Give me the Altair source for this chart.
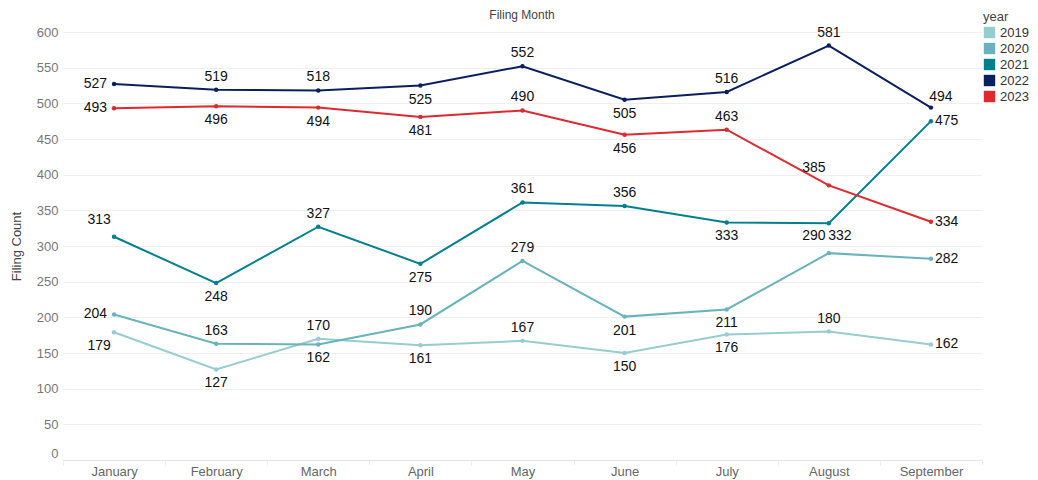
import altair as alt
import pandas as pd

months = ["January", "February", "March", "April", "May", "June", "July", "August", "September"]
years = ["2019", "2020", "2021", "2022", "2023"]
colors = ["#96CDD0", "#69B3BC", "#00808F", "#0A1F5F", "#DE2A2E"]

v2019 = [179, 127, 170, 161, 167, 150, 176, 180, 162]
v2020 = [204, 163, 162, 190, 279, 201, 211, 290, 282]
v2021 = [313, 248, 327, 275, 361, 356, 333, 332, 475]
v2022 = [527, 519, 518, 525, 552, 505, 516, 581, 494]
v2023 = [493, 496, 494, 481, 490, 456, 463, 385, 334]

# label placement codes per point (a=above, b=below, l=left, r=right, al/ar/bl/br diagonals)
p2019 = ["bl", "b", "a", "b", "a", "b", "b", "a", "r"]
p2020 = ["l", "a", "b", "a", "a", "b", "b", "al", "r"]
p2021 = ["al", "b", "a", "b", "a", "a", "b", "br", "r"]
p2022 = ["l", "a", "a", "b", "a", "b", "a", "a", "ar"]
p2023 = ["l", "b", "b", "b", "a", "b", "a", "al", "r"]

y_ticks = [0, 50, 100, 150, 200, 250, 300, 350, 400, 450, 500, 550, 600]

x_title = "Filing Month"
y_title = "Filing Count"

series = {"2019": (v2019, p2019), "2020": (v2020, p2020), "2021": (v2021, p2021),
          "2022": (v2022, p2022), "2023": (v2023, p2023)}

rows = []
for yr, (vals, pos) in series.items():
    for m, v, p in zip(months, vals, pos):
        rows.append({"month": m, "year": yr, "count": v, "pos": p})
df = pd.DataFrame(rows)

FONT = "Liberation Sans"

offsets = {
    "a": dict(dx=0, dy=-13, align="center"),
    "b": dict(dx=0, dy=14, align="center"),
    "l": dict(dx=-7, dy=0, align="right"),
    "r": dict(dx=4, dy=0, align="left"),
    "al": dict(dx=-15, dy=-17, align="center"),
    "ar": dict(dx=10, dy=-11, align="center"),
    "bl": dict(dx=-15, dy=14, align="center"),
    "br": dict(dx=11, dy=13, align="center"),
}

x_enc = alt.X(
    "month:N", sort=months,
    scale=alt.Scale(type="band", paddingInner=0, paddingOuter=0),
    axis=alt.Axis(title=None, labelAngle=0, grid=False, tickBand="extent",
                  ticks=True, tickSize=5, tickColor="#eeeeee",
                  domainColor="#e6e6e6", labelColor="#666666", labelFont=FONT,
                  labelFontSize=13, labelPadding=0),
)
y_enc = alt.Y(
    "count:Q", scale=alt.Scale(domain=[0, 600], nice=False, zero=True),
    axis=alt.Axis(title=y_title, values=y_ticks, labelOverlap=False,
                  titleFont=FONT, titleFontSize=13, titleFontWeight="normal",
                  titleColor="#444444", titlePadding=13,
                  labelColor="#777777", labelFont=FONT, labelFontSize=13,
                  labelPadding=5, ticks=False, domain=False,
                  gridColor="#efefef",
                  labelBaseline={"condition": {"test": "datum.value == 0", "value": "bottom"},
                                 "value": "middle"}),
)
color_enc = alt.Color(
    "year:N", scale=alt.Scale(domain=years, range=colors),
    legend=alt.Legend(title="year", orient="none", legendX=920, legendY=-21,
                      symbolType="square", symbolSize=130, symbolStrokeWidth=0,
                      titleFont=FONT, titleFontSize=13, titleFontWeight="normal",
                      titleColor="#444444", labelFont=FONT, labelFontSize=13,
                      labelColor="#333333", rowPadding=2, titlePadding=2),
)

base = alt.Chart(df).encode(x=x_enc, y=y_enc, color=color_enc)

lines = base.mark_line(strokeWidth=2)
points = base.mark_circle(size=20, opacity=1)

layers = [lines, points]
for code, o in offsets.items():
    layers.append(
        base.transform_filter(alt.datum.pos == code).mark_text(
            font=FONT, fontSize=14, color="#111111", baseline="middle", **o
        ).encode(text="count:Q", color=alt.value("#111111"))
    )

title_text = alt.Chart(pd.DataFrame({"t": [x_title]})).mark_text(
    font=FONT, fontSize=12, color="#444444", baseline="middle", align="center"
).encode(x=alt.value(459), y=alt.value(-17), text="t:N")
layers.append(title_text)

chart = alt.layer(*layers).properties(
    width=919, height=428,
    autosize=alt.AutoSizeParams(type="none"),
    padding={"left": 55, "top": 24, "right": 48, "bottom": 20},
).configure_view(stroke=None)

chart.save("out.html", embed_options={"renderer": "svg", "actions": False})
